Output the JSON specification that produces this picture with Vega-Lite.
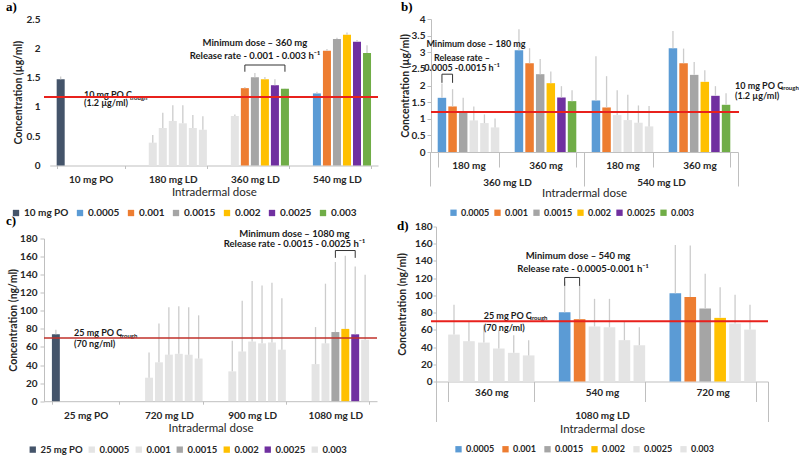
{
"$schema": "https://vega.github.io/schema/vega-lite/v6.json",
"padding": {"left": 6, "top": 1, "right": 0, "bottom": 0},
"background": "white",
"config": {
 "font": "Lato",
 "view": {"stroke": null},
 "axis": {"labelFont": "Lato", "labelFontSize": 10, "labelFontWeight": "bold", "labelColor": "#262626", "titleFont": "Lato", "titleColor": "#262626", "grid": false, "domainColor": "#bfbfbf", "tickColor": "#bfbfbf"},
 "axisX": {"titleFontSize": 11.5, "titleFontWeight": "normal"},
 "axisY": {"titleFontSize": 10.5, "titleFontWeight": "bold", "labelOverlap": false, "tickCount": 30},
 "legend": {"labelFont": "Lato", "labelFontSize": 10, "labelFontWeight": "bold", "labelColor": "#262626", "symbolType": "square", "symbolSize": 40, "symbolStrokeWidth": 0, "orient": "none", "direction": "horizontal", "labelOffset": 3},
 "title": {"font": "Liberation Serif", "fontSize": 13, "fontWeight": "bold", "color": "#000000"},
 "text": {"font": "Lato", "color": "#1a1a1a"}
},
"datasets": {
 "a": [
  {"grp": "10 mg PO", "s": "10 mg PO", "v": 1.47, "hi": 1.52},
  {"grp": "180 mg LD", "s": "0.0005", "v": 0.39, "hi": 0.52},
  {"grp": "180 mg LD", "s": "0.001", "v": 0.64, "hi": 0.9},
  {"grp": "180 mg LD", "s": "0.0015", "v": 0.76, "hi": 1.03},
  {"grp": "180 mg LD", "s": "0.002", "v": 0.72, "hi": 1.03},
  {"grp": "180 mg LD", "s": "0.0025", "v": 0.64, "hi": 0.86},
  {"grp": "180 mg LD", "s": "0.003", "v": 0.61, "hi": 0.84},
  {"grp": "360 mg LD", "s": "0.0005", "v": 0.845, "hi": 0.87},
  {"grp": "360 mg LD", "s": "0.001", "v": 1.32, "hi": 1.34},
  {"grp": "360 mg LD", "s": "0.0015", "v": 1.505, "hi": 1.58},
  {"grp": "360 mg LD", "s": "0.002", "v": 1.47, "hi": 1.51},
  {"grp": "360 mg LD", "s": "0.0025", "v": 1.37, "hi": 1.47},
  {"grp": "360 mg LD", "s": "0.003", "v": 1.31, "hi": 1.32},
  {"grp": "540 mg LD", "s": "0.0005", "v": 1.23, "hi": 1.26},
  {"grp": "540 mg LD", "s": "0.001", "v": 1.96, "hi": 1.99},
  {"grp": "540 mg LD", "s": "0.0015", "v": 2.16, "hi": 2.18},
  {"grp": "540 mg LD", "s": "0.002", "v": 2.23, "hi": 2.27},
  {"grp": "540 mg LD", "s": "0.0025", "v": 2.11, "hi": 2.14},
  {"grp": "540 mg LD", "s": "0.003", "v": 1.92, "hi": 2.05}
 ],
 "b": [
  {"grp": "180 mg|360 mg LD", "s": "0.0005", "v": 1.63, "hi": 2.06},
  {"grp": "180 mg|360 mg LD", "s": "0.001", "v": 1.37, "hi": 1.89},
  {"grp": "180 mg|360 mg LD", "s": "0.0015", "v": 1.21, "hi": 1.63},
  {"grp": "180 mg|360 mg LD", "s": "0.002", "v": 0.95, "hi": 1.37},
  {"grp": "180 mg|360 mg LD", "s": "0.0025", "v": 0.87, "hi": 1.13},
  {"grp": "180 mg|360 mg LD", "s": "0.003", "v": 0.74, "hi": 1.01},
  {"grp": "360 mg|360 mg LD", "s": "0.0005", "v": 3.06, "hi": 3.69},
  {"grp": "360 mg|360 mg LD", "s": "0.001", "v": 2.67, "hi": 3.12},
  {"grp": "360 mg|360 mg LD", "s": "0.0015", "v": 2.34, "hi": 2.8},
  {"grp": "360 mg|360 mg LD", "s": "0.002", "v": 2.07, "hi": 2.42},
  {"grp": "360 mg|360 mg LD", "s": "0.0025", "v": 1.64, "hi": 1.98},
  {"grp": "360 mg|360 mg LD", "s": "0.003", "v": 1.53, "hi": 1.86},
  {"grp": "180 mg|540 mg LD", "s": "0.0005", "v": 1.55, "hi": 2.88},
  {"grp": "180 mg|540 mg LD", "s": "0.001", "v": 1.34, "hi": 2.28},
  {"grp": "180 mg|540 mg LD", "s": "0.0015", "v": 1.11, "hi": 1.86},
  {"grp": "180 mg|540 mg LD", "s": "0.002", "v": 0.96, "hi": 1.72},
  {"grp": "180 mg|540 mg LD", "s": "0.0025", "v": 0.88, "hi": 1.4},
  {"grp": "180 mg|540 mg LD", "s": "0.003", "v": 0.77, "hi": 1.38},
  {"grp": "360 mg|540 mg LD", "s": "0.0005", "v": 3.12, "hi": 3.64},
  {"grp": "360 mg|540 mg LD", "s": "0.001", "v": 2.67, "hi": 3.11},
  {"grp": "360 mg|540 mg LD", "s": "0.0015", "v": 2.32, "hi": 2.71},
  {"grp": "360 mg|540 mg LD", "s": "0.002", "v": 2.11, "hi": 2.46},
  {"grp": "360 mg|540 mg LD", "s": "0.0025", "v": 1.69, "hi": 1.98},
  {"grp": "360 mg|540 mg LD", "s": "0.003", "v": 1.42, "hi": 1.77}
 ],
 "c": [
  {"grp": "25 mg PO", "s": "25 mg PO", "v": 74, "hi": 79},
  {"grp": "720 mg LD", "s": "0.0005", "v": 26, "hi": 54},
  {"grp": "720 mg LD", "s": "0.001", "v": 43, "hi": 86},
  {"grp": "720 mg LD", "s": "0.0015", "v": 51.5, "hi": 104},
  {"grp": "720 mg LD", "s": "0.002", "v": 52.4, "hi": 105},
  {"grp": "720 mg LD", "s": "0.0025", "v": 51.5, "hi": 104},
  {"grp": "720 mg LD", "s": "0.003", "v": 47.2, "hi": 95},
  {"grp": "900 mg LD", "s": "0.0005", "v": 33, "hi": 67},
  {"grp": "900 mg LD", "s": "0.001", "v": 55, "hi": 111},
  {"grp": "900 mg LD", "s": "0.0015", "v": 66, "hi": 133},
  {"grp": "900 mg LD", "s": "0.002", "v": 64, "hi": 128},
  {"grp": "900 mg LD", "s": "0.0025", "v": 65, "hi": 131},
  {"grp": "900 mg LD", "s": "0.003", "v": 57, "hi": 114},
  {"grp": "1080 mg LD", "s": "0.0005", "v": 41, "hi": 82},
  {"grp": "1080 mg LD", "s": "0.001", "v": 64, "hi": 130},
  {"grp": "1080 mg LD", "s": "0.0015", "v": 76.5, "hi": 154},
  {"grp": "1080 mg LD", "s": "0.002", "v": 80, "hi": 161},
  {"grp": "1080 mg LD", "s": "0.0025", "v": 74, "hi": 149},
  {"grp": "1080 mg LD", "s": "0.003", "v": 68, "hi": 140}
 ],
 "d": [
  {"grp": "360 mg|1080 mg LD", "s": "0.0005", "v": 54.5, "hi": 89},
  {"grp": "360 mg|1080 mg LD", "s": "0.001", "v": 46.8, "hi": 69},
  {"grp": "360 mg|1080 mg LD", "s": "0.0015", "v": 45.2, "hi": 66},
  {"grp": "360 mg|1080 mg LD", "s": "0.002", "v": 38.3, "hi": 59.6},
  {"grp": "360 mg|1080 mg LD", "s": "0.0025", "v": 33.3, "hi": 53.8},
  {"grp": "360 mg|1080 mg LD", "s": "0.003", "v": 30.3, "hi": 48},
  {"grp": "540 mg|1080 mg LD", "s": "0.0005", "v": 80.5, "hi": 116},
  {"grp": "540 mg|1080 mg LD", "s": "0.001", "v": 72.4, "hi": 112},
  {"grp": "540 mg|1080 mg LD", "s": "0.0015", "v": 64, "hi": 96},
  {"grp": "540 mg|1080 mg LD", "s": "0.002", "v": 63, "hi": 96},
  {"grp": "540 mg|1080 mg LD", "s": "0.0025", "v": 48, "hi": 70},
  {"grp": "540 mg|1080 mg LD", "s": "0.003", "v": 42, "hi": 63},
  {"grp": "720 mg|1080 mg LD", "s": "0.0005", "v": 102.6, "hi": 158.6},
  {"grp": "720 mg|1080 mg LD", "s": "0.001", "v": 98, "hi": 157.8},
  {"grp": "720 mg|1080 mg LD", "s": "0.0015", "v": 84.7, "hi": 125},
  {"grp": "720 mg|1080 mg LD", "s": "0.002", "v": 73.9, "hi": 109.5},
  {"grp": "720 mg|1080 mg LD", "s": "0.0025", "v": 67.3, "hi": 100.6},
  {"grp": "720 mg|1080 mg LD", "s": "0.003", "v": 60.3, "hi": 89}
 ]
},
"columns": 2,
"align": "each",
"spacing": 18,
"resolve": {"scale": {"x": "independent", "y": "independent", "xOffset": "independent", "color": "independent"}, "legend": {"color": "independent"}, "axis": {"x": "independent", "y": "independent"}},
"concat": [
 {
  "bounds": "flush",
  "spacing": 72.5,
  "resolve": {"scale": {"x": "independent", "y": "independent", "xOffset": "independent", "color": "independent"}, "legend": {"color": "independent"}, "axis": {"x": "independent", "y": "independent"}},
  "vconcat": [
   {
    "width": 334, "height": 146.5,
    "title": {"text": "a)", "anchor": "start", "frame": "group", "dx": -38, "offset": 0},
    "layer": [
     {
      "encoding": {
       "x": {"field": "grp", "type": "nominal", "title": "Intradermal dose",
        "scale": {"domain": ["10 mg PO", "180 mg LD", "360 mg LD", "540 mg LD"], "range": [5.7, 334], "paddingInner": 0.17, "paddingOuter": 0.085},
        "axis": {"labelAngle": 0, "tickBand": "extent", "tickSize": 3, "labelPadding": 6, "titlePadding": 2}},
       "y": {"field": "v", "type": "quantitative", "title": "Concentration (µg/ml)",
        "scale": {"domain": [0, 2.5], "nice": false},
        "axis": {"values": [0, 0.5, 1, 1.5, 2, 2.5], "tickCount": 30, "format": "~g", "labelOverlap": false, "domain": false, "ticks": false, "labelPadding": 4, "titlePadding": 3}}
      },
      "layer": [
       {"data": {"name": "a"}, "mark": {"type": "bar"},
        "encoding": {
         "xOffset": {"field": "s", "type": "nominal", "scale": {"domain": ["10 mg PO", "0.0005", "0.001", "0.0015", "0.002", "0.0025", "0.003"], "paddingInner": 0.2}},
         "color": {"field": "s", "type": "nominal",
          "scale": {"domain": ["10 mg PO", "0.0005", "0.001", "0.0015", "0.002", "0.0025", "0.003"], "range": ["#44546a", "#5b9bd5", "#ed7d31", "#a5a5a5", "#ffc000", "#7030a0", "#70ad47"]},
          "condition": {"test": "datum.v < 1.17", "value": "#e4e4e4"},
          "legend": {"title": null, "legendX": -33, "legendY": 189, "columnPadding": 6}}
        }},
       {"data": {"name": "a"}, "mark": {"type": "rule", "color": "#cccccc", "strokeWidth": 1.3},
        "encoding": {
         "xOffset": {"field": "s", "type": "nominal", "scale": {"domain": ["10 mg PO", "0.0005", "0.001", "0.0015", "0.002", "0.0025", "0.003"], "paddingInner": 0.2}},
         "y2": {"field": "hi"}
        }},
       {"data": {"values": [
         {"grp": "360 mg LD", "s": "0.001", "v": 1.6, "o": 1},
         {"grp": "360 mg LD", "s": "0.001", "v": 1.715, "o": 2},
         {"grp": "360 mg LD", "s": "0.003", "v": 1.715, "o": 3},
         {"grp": "360 mg LD", "s": "0.003", "v": 1.6, "o": 4}]},
        "mark": {"type": "line", "color": "#333333", "strokeWidth": 1},
        "encoding": {
         "xOffset": {"field": "s", "type": "nominal", "scale": {"domain": ["10 mg PO", "0.0005", "0.001", "0.0015", "0.002", "0.0025", "0.003"], "paddingInner": 0.2}},
         "order": {"field": "o"}
        }},
       {"data": {"values": [
         {"grp": "360 mg LD", "v": 2.09, "t": "Minimum dose – 360 mg"},
         {"grp": "360 mg LD", "v": 1.87, "t": "Release rate - 0.001 - 0.003 h⁻¹"}]},
        "mark": {"type": "text", "fontSize": 9.5, "fontWeight": "bold", "baseline": "middle"},
        "encoding": {"text": {"field": "t"}}},
       {"data": {"values": [
         {"grp": "10 mg PO", "v": 1.198, "t": "10 mg PO C"},
         {"grp": "10 mg PO", "v": 1.07, "t": "(1.2 µg/ml)"}]},
        "mark": {"type": "text", "fontSize": 9, "fontWeight": "bold", "align": "left", "baseline": "middle", "dx": -6.8},
        "encoding": {"text": {"field": "t"}}},
       {"data": {"values": [{"grp": "10 mg PO", "v": 1.198, "t": "trough"}]},
        "mark": {"type": "text", "fontSize": 6, "fontWeight": "bold", "align": "left", "baseline": "middle", "dx": 39, "dy": 2.5},
        "encoding": {"text": {"field": "t"}}}
      ]
     },
     {"data": {"values": [{}]}, "mark": {"type": "rule", "color": "#e8211c", "strokeWidth": 2}, "encoding": {"y": {"datum": 1.17}}}
    ]
   },
   {
    "width": 333, "height": 162.7,
    "title": {"text": "c)", "anchor": "start", "frame": "group", "dx": -38, "offset": 1},
    "layer": [
     {
      "encoding": {
       "x": {"field": "grp", "type": "nominal", "title": "Intradermal dose",
        "scale": {"domain": ["25 mg PO", "720 mg LD", "900 mg LD", "1080 mg LD"], "range": [0, 333], "paddingInner": 0.19, "paddingOuter": 0.095},
        "axis": {"labelAngle": 0, "tickBand": "extent", "tickSize": 3, "labelPadding": 6.5, "titlePadding": 2}},
       "y": {"field": "v", "type": "quantitative", "title": "Concentration (ng/ml)",
        "scale": {"domain": [0, 180], "nice": false},
        "axis": {"values": [0, 20, 40, 60, 80, 100, 120, 140, 160, 180], "tickCount": 30, "labelOverlap": false, "tickSize": 4, "labelPadding": 3, "titlePadding": 1}}
      },
      "layer": [
       {"data": {"name": "c"}, "mark": {"type": "bar"},
        "encoding": {
         "xOffset": {"field": "s", "type": "nominal", "scale": {"domain": ["25 mg PO", "0.0005", "0.001", "0.0015", "0.002", "0.0025", "0.003"], "paddingInner": 0.2}},
         "color": {"field": "s", "type": "nominal",
          "scale": {"domain": ["25 mg PO", "0.0005", "0.001", "0.0015", "0.002", "0.0025", "0.003"], "range": ["#44546a", "#e4e4e4", "#e4e4e4", "#a5a5a5", "#ffc000", "#7030a0", "#e4e4e4"]},
          "condition": {"test": "datum.v < 70", "value": "#e4e4e4"},
          "legend": {"title": null, "legendX": -16, "legendY": 206, "columnPadding": 4, "labelFontSize": 9.5}}
        }},
       {"data": {"name": "c"}, "mark": {"type": "rule", "color": "#cccccc", "strokeWidth": 1.3},
        "encoding": {
         "xOffset": {"field": "s", "type": "nominal", "scale": {"domain": ["25 mg PO", "0.0005", "0.001", "0.0015", "0.002", "0.0025", "0.003"], "paddingInner": 0.2}},
         "y2": {"field": "hi"}
        }},
       {"data": {"values": [
         {"grp": "1080 mg LD", "s": "0.0015", "v": 158.6, "o": 1},
         {"grp": "1080 mg LD", "s": "0.0015", "v": 166.7, "o": 2},
         {"grp": "1080 mg LD", "s": "0.0025", "v": 166.7, "o": 3},
         {"grp": "1080 mg LD", "s": "0.0025", "v": 158.6, "o": 4}]},
        "mark": {"type": "line", "color": "#333333", "strokeWidth": 1},
        "encoding": {
         "xOffset": {"field": "s", "type": "nominal", "scale": {"domain": ["25 mg PO", "0.0005", "0.001", "0.0015", "0.002", "0.0025", "0.003"], "paddingInner": 0.2}},
         "order": {"field": "o"}
        }},
       {"data": {"values": [
         {"grp": "1080 mg LD", "v": 185.5, "t": "Minimum dose – 1080 mg"},
         {"grp": "1080 mg LD", "v": 173.4, "t": "Release rate - 0.0015 - 0.0025 h⁻¹"}]},
        "mark": {"type": "text", "fontSize": 9.5, "fontWeight": "bold", "baseline": "middle", "dx": -41},
        "encoding": {"text": {"field": "t"}}},
       {"data": {"values": [
         {"grp": "25 mg PO", "v": 74.9, "t": "25 mg PO C"},
         {"grp": "25 mg PO", "v": 63.8, "t": "(70 ng/ml)"}]},
        "mark": {"type": "text", "fontSize": 9, "fontWeight": "bold", "align": "left", "baseline": "middle", "dx": -11.6},
        "encoding": {"text": {"field": "t"}}},
       {"data": {"values": [{"grp": "25 mg PO", "v": 74.9, "t": "trough"}]},
        "mark": {"type": "text", "fontSize": 6, "fontWeight": "bold", "align": "left", "baseline": "middle", "dx": 34, "dy": 2.5},
        "encoding": {"text": {"field": "t"}}}
      ]
     },
     {"data": {"values": [{}]}, "mark": {"type": "rule", "color": "#c0302a", "strokeWidth": 1.6}, "encoding": {"y": {"datum": 70}}}
    ]
   }
  ]
 },
 {
  "bounds": "flush",
  "spacing": 74.5,
  "resolve": {"scale": {"x": "independent", "y": "independent", "xOffset": "independent", "color": "independent"}, "legend": {"color": "independent"}, "axis": {"x": "independent", "y": "independent"}},
  "vconcat": [
   {
    "width": 308, "height": 133,
    "title": {"text": "b)", "anchor": "start", "frame": "group", "dx": -30, "offset": 0},
    "resolve": {"scale": {"x": "independent"}, "axis": {"x": "independent"}},
    "layer": [
     {
      "encoding": {
       "x": {"field": "grp", "type": "nominal", "title": null,
        "scale": {"domain": ["180 mg|360 mg LD", "360 mg|360 mg LD", "180 mg|540 mg LD", "360 mg|540 mg LD"], "range": [-1, 307], "paddingInner": 0.2, "paddingOuter": 0.1},
        "axis": {"orient": "bottom", "labelAngle": 0, "labelExpr": "split(datum.label, '|')[0]", "tickBand": "extent", "tickSize": 15, "labelPadding": -6.5}},
       "y": {"field": "v", "type": "quantitative", "title": "Concentration (µg/ml)",
        "scale": {"domain": [0, 4], "nice": false},
        "axis": {"values": [0, 0.5, 1, 1.5, 2, 2.5, 3, 3.5, 4], "tickCount": 30, "format": "~g", "labelOverlap": false, "tickSize": 4, "labelPadding": 2, "titlePadding": 1}}
      },
      "layer": [
       {"data": {"name": "b"}, "mark": {"type": "bar"},
        "encoding": {
         "xOffset": {"field": "s", "type": "nominal", "scale": {"domain": ["0.0005", "0.001", "0.0015", "0.002", "0.0025", "0.003"], "paddingInner": 0.2}},
         "color": {"field": "s", "type": "nominal",
          "scale": {"domain": ["0.0005", "0.001", "0.0015", "0.002", "0.0025", "0.003"], "range": ["#5b9bd5", "#ed7d31", "#a5a5a5", "#ffc000", "#7030a0", "#70ad47"]},
          "condition": {"test": "datum.v < 1.2", "value": "#e4e4e4"},
          "legend": {"title": null, "legendX": 18, "legendY": 189, "columnPadding": 3, "labelFontSize": 9}}
        }},
       {"data": {"name": "b"}, "mark": {"type": "rule", "color": "#cccccc", "strokeWidth": 1.3},
        "encoding": {
         "xOffset": {"field": "s", "type": "nominal", "scale": {"domain": ["0.0005", "0.001", "0.0015", "0.002", "0.0025", "0.003"], "paddingInner": 0.2}},
         "y2": {"field": "hi"}
        }},
       {"data": {"values": [
         {"grp": "180 mg|360 mg LD", "s": "0.0005", "v": 2.08, "o": 1},
         {"grp": "180 mg|360 mg LD", "s": "0.0005", "v": 2.34, "o": 2},
         {"grp": "180 mg|360 mg LD", "s": "0.001", "v": 2.34, "o": 3},
         {"grp": "180 mg|360 mg LD", "s": "0.001", "v": 2.08, "o": 4}]},
        "mark": {"type": "line", "color": "#333333", "strokeWidth": 1},
        "encoding": {
         "xOffset": {"field": "s", "type": "nominal", "scale": {"domain": ["0.0005", "0.001", "0.0015", "0.002", "0.0025", "0.003"], "paddingInner": 0.2}},
         "order": {"field": "o"}
        }},
       {"data": {"values": [{"grp": "180 mg|360 mg LD", "v": 3.25, "t": "Minimum dose – 180 mg"}]},
        "mark": {"type": "text", "fontSize": 9, "fontWeight": "bold", "baseline": "middle", "dx": 7.5},
        "encoding": {"text": {"field": "t"}}},
       {"data": {"values": [
         {"grp": "180 mg|360 mg LD", "v": 2.83, "t": "Release rate –"},
         {"grp": "180 mg|360 mg LD", "v": 2.53, "t": "0.0005 -0.0015 h⁻¹"}]},
        "mark": {"type": "text", "fontSize": 9, "fontWeight": "bold", "baseline": "middle", "dx": -6.5},
        "encoding": {"text": {"field": "t"}}},
       {"data": {"values": [
         {"grp": "360 mg|540 mg LD", "v": 1.985, "t": "10 mg PO C"},
         {"grp": "360 mg|540 mg LD", "v": 1.68, "t": "(1.2 µg/ml)"}]},
        "mark": {"type": "text", "fontSize": 9, "fontWeight": "bold", "align": "left", "baseline": "middle", "dx": 35.5},
        "encoding": {"text": {"field": "t"}}},
       {"data": {"values": [{"grp": "360 mg|540 mg LD", "v": 1.985, "t": "trough"}]},
        "mark": {"type": "text", "fontSize": 6, "fontWeight": "bold", "align": "left", "baseline": "middle", "dx": 81.5, "dy": 2.5},
        "encoding": {"text": {"field": "t"}}}
      ]
     },
     {"data": {"values": [{}]}, "mark": {"type": "rule", "color": "#e8211c", "strokeWidth": 2}, "encoding": {"y": {"datum": 1.2}}},
     {"data": {"values": [{"ld": "360 mg LD"}, {"ld": "540 mg LD"}]},
      "mark": {"type": "bar", "opacity": 0},
      "encoding": {"x": {"field": "ld", "type": "nominal", "title": "Intradermal dose",
        "scale": {"domain": ["360 mg LD", "540 mg LD"], "range": [-1, 307], "paddingInner": 0, "paddingOuter": 0},
        "axis": {"orient": "bottom", "labelAngle": 0, "tickBand": "extent", "tickSize": 34, "labelPadding": -9, "titlePadding": 0, "domain": false}}}}
    ]
   },
   {
    "width": 337, "height": 155,
    "title": {"text": "d)", "anchor": "start", "frame": "group", "dx": -34, "offset": -11},
    "resolve": {"scale": {"x": "independent"}, "axis": {"x": "independent"}},
    "layer": [
     {
      "encoding": {
       "x": {"field": "grp", "type": "nominal", "title": null,
        "scale": {"domain": ["360 mg|1080 mg LD", "540 mg|1080 mg LD", "720 mg|1080 mg LD"], "range": [5, 337], "paddingInner": 0.22, "paddingOuter": 0.11},
        "axis": {"orient": "bottom", "labelAngle": 0, "labelExpr": "split(datum.label, '|')[0]", "tickBand": "extent", "tickSize": 20, "labelPadding": -14.5}},
       "y": {"field": "v", "type": "quantitative", "title": "Concentration (ng/ml)",
        "scale": {"domain": [0, 180], "nice": false},
        "axis": {"values": [0, 20, 40, 60, 80, 100, 120, 140, 160, 180], "tickCount": 30, "labelOverlap": false, "tickSize": 3, "labelPadding": 1, "titlePadding": 7, "offset": -5}}
      },
      "layer": [
       {"data": {"name": "d"}, "mark": {"type": "bar"},
        "encoding": {
         "xOffset": {"field": "s", "type": "nominal", "scale": {"domain": ["0.0005", "0.001", "0.0015", "0.002", "0.0025", "0.003"], "paddingInner": 0.22}},
         "color": {"field": "s", "type": "nominal",
          "scale": {"domain": ["0.0005", "0.001", "0.0015", "0.002", "0.0025", "0.003"], "range": ["#5b9bd5", "#ed7d31", "#a5a5a5", "#ffc000", "#e4e4e4", "#e4e4e4"]},
          "condition": {"test": "datum.v < 70", "value": "#e4e4e4"},
          "legend": {"title": null, "legendX": 23, "legendY": 218, "columnPadding": 6, "labelFontSize": 9}}
        }},
       {"data": {"name": "d"}, "mark": {"type": "rule", "color": "#cccccc", "strokeWidth": 1.3},
        "encoding": {
         "xOffset": {"field": "s", "type": "nominal", "scale": {"domain": ["0.0005", "0.001", "0.0015", "0.002", "0.0025", "0.003"], "paddingInner": 0.22}},
         "y2": {"field": "hi"}
        }},
       {"data": {"values": [
         {"grp": "540 mg|1080 mg LD", "s": "0.0005", "v": 111.1, "o": 1},
         {"grp": "540 mg|1080 mg LD", "s": "0.0005", "v": 120.8, "o": 2},
         {"grp": "540 mg|1080 mg LD", "s": "0.001", "v": 120.8, "o": 3},
         {"grp": "540 mg|1080 mg LD", "s": "0.001", "v": 111.1, "o": 4}]},
        "mark": {"type": "line", "color": "#333333", "strokeWidth": 1},
        "encoding": {
         "xOffset": {"field": "s", "type": "nominal", "scale": {"domain": ["0.0005", "0.001", "0.0015", "0.002", "0.0025", "0.003"], "paddingInner": 0.22}},
         "order": {"field": "o"}
        }},
       {"data": {"values": [{"grp": "540 mg|1080 mg LD", "v": 146, "t": "Minimum dose – 540 mg"}]},
        "mark": {"type": "text", "fontSize": 9.5, "fontWeight": "bold", "baseline": "middle", "dx": -24},
        "encoding": {"text": {"field": "t"}}},
       {"data": {"values": [{"grp": "540 mg|1080 mg LD", "v": 130.5, "t": "Release rate - 0.0005-0.001 h⁻¹"}]},
        "mark": {"type": "text", "fontSize": 9.5, "fontWeight": "bold", "baseline": "middle", "dx": -19},
        "encoding": {"text": {"field": "t"}}},
       {"data": {"values": [
         {"grp": "360 mg|1080 mg LD", "v": 76.3, "t": "25 mg PO C"},
         {"grp": "360 mg|1080 mg LD", "v": 62.7, "t": "(70 ng/ml)"}]},
        "mark": {"type": "text", "fontSize": 9, "fontWeight": "bold", "align": "left", "baseline": "middle", "dx": -7.6},
        "encoding": {"text": {"field": "t"}}},
       {"data": {"values": [{"grp": "360 mg|1080 mg LD", "v": 76.3, "t": "trough"}]},
        "mark": {"type": "text", "fontSize": 6, "fontWeight": "bold", "align": "left", "baseline": "middle", "dx": 38.4, "dy": 2.5},
        "encoding": {"text": {"field": "t"}}}
      ]
     },
     {"data": {"values": [{}]}, "mark": {"type": "rule", "color": "#e8211c", "strokeWidth": 2}, "encoding": {"y": {"datum": 70}}},
     {"data": {"values": [{"ld": "1080 mg LD"}]},
      "mark": {"type": "bar", "opacity": 0},
      "encoding": {"x": {"field": "ld", "type": "nominal", "title": "Intradermal dose",
        "scale": {"domain": ["1080 mg LD"], "range": [5, 337], "paddingInner": 0, "paddingOuter": 0},
        "axis": {"orient": "bottom", "labelAngle": 0, "tickBand": "extent", "tickSize": 40, "labelPadding": -11, "titlePadding": 1, "domain": false}}}}
    ]
   }
  ]
 }
]
}
